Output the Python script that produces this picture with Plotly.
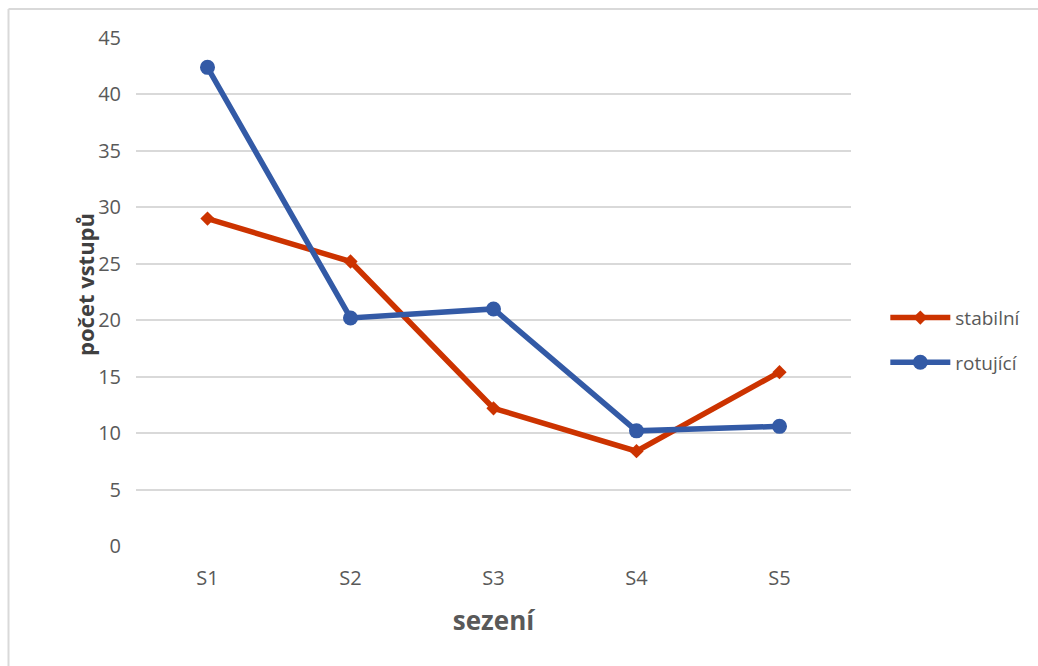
import plotly.graph_objects as go

# Session labels and per-session counts for each series
sessions = ["S1", "S2", "S3", "S4", "S5"]
stabilni = [29.0, 25.2, 12.2, 8.4, 15.4]
rotujici = [42.4, 20.2, 21.0, 10.2, 10.6]
y_ticks = [0, 5, 10, 15, 20, 25, 30, 35, 40, 45]

FONT = "Open Sans"
GRAY = "#595959"

fig = go.Figure()
fig.add_trace(go.Scatter(
    x=sessions, y=stabilni, name="stabilní", mode="lines+markers",
    line=dict(color="#CC3300", width=5.5),
    marker=dict(symbol="diamond", size=11, color="#CC3300"),
    legendgroup="a",
))
fig.add_trace(go.Scatter(
    x=sessions, y=rotujici, name="rotující", mode="lines+markers",
    line=dict(color="#335AA6", width=5.5),
    marker=dict(symbol="circle", size=15, color="#335AA6"),
    legendgroup="b",
))

fig.update_layout(
    width=1038, height=666,
    margin=dict(l=136, r=187, t=38, b=120),
    paper_bgcolor="white", plot_bgcolor="white",
    font=dict(family=FONT, color=GRAY, size=20),
    showlegend=True,
    legend=dict(
        x=1.048, y=0.405, xanchor="left", yanchor="middle",
        font=dict(family=FONT, size=19, color=GRAY),
        itemwidth=60, tracegroupgap=17, traceorder="grouped",
        bgcolor="rgba(0,0,0,0)",
    ),
    xaxis=dict(
        range=[-0.5, 4.5],
        showgrid=False, showline=False, zeroline=False,
        ticks="", tickfont=dict(size=20, color=GRAY), ticklabelstandoff=18,
        title=dict(text="<b>sezení</b>", font=dict(size=26, color=GRAY), standoff=21),
    ),
    yaxis=dict(
        range=[0, 45], tickvals=y_ticks, showgrid=True,
        gridcolor="#D9D9D9", gridwidth=2, zeroline=False, showline=False,
        ticks="", tickfont=dict(size=20, color=GRAY), ticklabelstandoff=14,
    ),
    annotations=[dict(
        text="<b>počet vstupů</b>", textangle=-90,
        x=-0.095, y=0.514, xref="paper", yref="paper",
        showarrow=False, font=dict(family=FONT, size=22, color="#404040"),
    )],
    shapes=[
        # outer chart frame (top and left edges visible)
        dict(type="line", xref="paper", yref="paper",
             x0=-0.1783, x1=1.27, y0=1.0571, y1=1.0571,
             line=dict(color="#D9D9D9", width=2)),
        dict(type="line", xref="paper", yref="paper",
             x0=-0.1783, x1=-0.1783, y0=1.0571, y1=-0.25,
             line=dict(color="#D9D9D9", width=2)),
    ],
)

fig.write_html("out.html")
